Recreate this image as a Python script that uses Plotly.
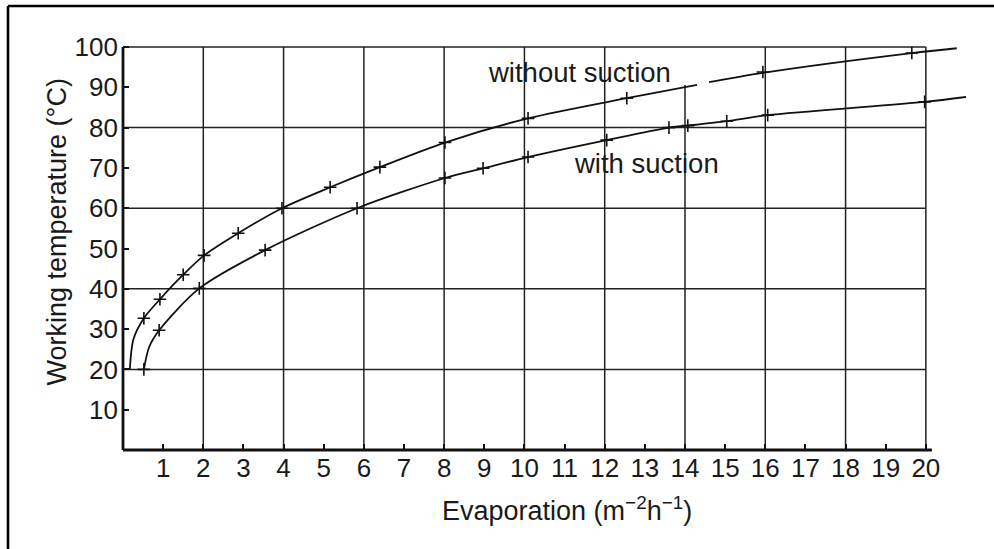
import plotly.graph_objects as go

# ---- data ----
# "without suction" curve: measured points (marked)
wo_x = [0.52, 0.92, 1.5, 2.02, 2.87, 3.96, 5.16, 6.4, 8.02, 10.09, 12.55, 15.94, 19.65]
wo_y = [32.7, 37.4, 43.5, 48.3, 53.8, 60.0, 65.2, 70.2, 76.3, 82.3, 87.3, 93.8, 98.5]
# drawn curve (start, measured points, small break near 14.4, extension past 20)
wo_line_x = [0.17, 0.26, 0.52, 0.92, 1.5, 2.02, 2.87, 3.96, 5.16, 6.4, 8.02, 10.09, 12.55, 14.3,
             None, 14.6, 15.94, 19.65, 20.77]
wo_line_y = [20.0, 27.5, 32.7, 37.4, 43.5, 48.3, 53.8, 60.0, 65.2, 70.2, 76.3, 82.3, 87.3, 90.6,
             None, 91.3, 93.6, 98.5, 99.7]

# "with suction" curve
ws_x = [0.52, 0.9, 1.9, 3.54, 5.83, 8.02, 8.97, 10.09, 12.05, 13.6, 14.07, 15.04, 16.06, 19.97]
ws_y = [20.0, 29.7, 40.1, 49.6, 60.0, 67.5, 69.9, 72.7, 76.9, 80.0, 80.5, 81.6, 83.1, 86.4]
ws_line_x = [0.52, 0.65, 0.9, 1.9, 3.54, 5.83, 8.02, 8.97, 10.09, 12.05, 13.6, 14.07, 15.04, 16.06, 19.97, 21.0]
ws_line_y = [20.0, 25.5, 29.7, 40.1, 49.6, 60.0, 67.5, 69.9, 72.7, 76.9, 80.0, 80.5, 81.6, 83.1, 86.4, 87.6]

x_ticks = list(range(1, 21))
y_ticks = [10, 20, 30, 40, 50, 60, 70, 80, 90, 100]
grid_x = [2, 4, 6, 8, 10, 12, 14, 16, 18, 20]
grid_y = [20, 40, 60, 80, 100]
x_title = "Evaporation (m<sup>−2</sup>h<sup>−1</sup>)"
y_title = "Working temperature (°C)"
label_wo = "without suction"
label_ws = "with suction"

FONT = "Liberation Sans, Arial, Helvetica, sans-serif"
TXT = "#1a1a1a"
Y_MAX = 101

fig = go.Figure()

fig.add_trace(go.Scatter(x=wo_line_x, y=wo_line_y, mode="lines", line=dict(color="#111", width=1.8, shape="spline", smoothing=0.8),
                         connectgaps=False, hoverinfo="skip", showlegend=False))
fig.add_trace(go.Scatter(x=ws_line_x, y=ws_line_y, mode="lines", line=dict(color="#111", width=1.8, shape="spline", smoothing=0.8),
                         hoverinfo="skip", showlegend=False))
fig.add_trace(go.Scatter(x=wo_x, y=wo_y, mode="markers", name=label_wo,
                         marker=dict(symbol="cross-thin", size=9, line=dict(color="#111", width=1.6)), showlegend=False))
fig.add_trace(go.Scatter(x=ws_x, y=ws_y, mode="markers", name=label_ws,
                         marker=dict(symbol="cross-thin", size=9, line=dict(color="#111", width=1.6)), showlegend=False))

shapes = []
GRID = dict(color="#222", width=1.5)
for gx in grid_x:
    top = 100
    if gx == 14:
        top = 90.6  # grid line at 14 stops at the upper curve in the original
    shapes.append(dict(type="line", xref="x", yref="y", x0=gx, x1=gx, y0=0, y1=top, line=GRID, layer="below"))
for gy in grid_y:
    shapes.append(dict(type="line", xref="x", yref="y", x0=0, x1=20, y0=gy, y1=gy, line=GRID, layer="below"))
# axis lines (paper refs so they are not clipped at the plot edge)
AX = dict(color="#111", width=2.8)
shapes.append(dict(type="line", xref="paper", yref="paper", x0=0, x1=20.15 / 21, y0=0, y1=0, line=AX))
shapes.append(dict(type="line", xref="paper", yref="paper", x0=0, x1=0, y0=0, y1=100 / Y_MAX, line=AX))
# outer frame (left and top edges visible)
FR = dict(color="#000", width=2.6)
fx = (8 - 123) / 843
fy = (450 - 6) / 407
shapes.append(dict(type="line", xref="paper", yref="paper", x0=fx, x1=fx, y0=fy, y1=-0.4, line=FR))
shapes.append(dict(type="line", xref="paper", yref="paper", x0=fx, x1=1.2, y0=fy, y1=fy, line=FR))

annotations = [
    dict(x=11.36, y=93.8, xref="x", yref="y", text=label_wo, showarrow=False,
         font=dict(family=FONT, size=27.5, color=TXT), xanchor="center", yanchor="middle"),
    dict(x=13.04, y=71.2, xref="x", yref="y", text=label_ws, showarrow=False,
         font=dict(family=FONT, size=27.5, color=TXT), xanchor="center", yanchor="middle"),
    dict(x=(567 - 123) / 843, y=(450 - 509) / 407, xref="paper", yref="paper", text=x_title, showarrow=False,
         font=dict(family=FONT, size=27, color=TXT), xanchor="center", yanchor="middle"),
    dict(x=(56 - 123) / 843, y=(450 - 232.5) / 407, xref="paper", yref="paper", text=y_title, showarrow=False,
         textangle=-90, font=dict(family=FONT, size=27, color=TXT), xanchor="center", yanchor="middle"),
]

fig.update_layout(
    width=994, height=549,
    margin=dict(l=123, r=28, t=43, b=99),
    paper_bgcolor="white", plot_bgcolor="white",
    shapes=shapes, annotations=annotations,
    font=dict(family=FONT, color=TXT),
    showlegend=False,
)
fig.update_xaxes(range=[0, 21], showgrid=False, zeroline=False, showline=False,
                 tickmode="array", tickvals=x_ticks, ticktext=[str(v) for v in x_ticks],
                 ticks="inside", ticklen=6, tickwidth=1.5, tickcolor="#111",
                 tickfont=dict(family=FONT, size=26, color=TXT))
fig.update_yaxes(range=[0, Y_MAX], showgrid=False, zeroline=False, showline=False,
                 tickmode="array", tickvals=y_ticks, ticktext=[str(v) for v in y_ticks],
                 ticks="inside", ticklen=6, tickwidth=1.5, tickcolor="#111",
                 ticklabelstandoff=4,
                 tickfont=dict(family=FONT, size=26, color=TXT))

fig.write_html("out.html")
